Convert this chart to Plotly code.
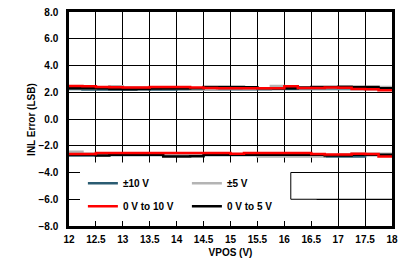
import plotly.graph_objects as go

# Supply voltage (V)
vpos = [12.0, 12.25, 12.5, 12.75, 13.0, 13.25, 13.5, 13.75, 14.0, 14.25, 14.5, 14.75,
        15.0, 15.25, 15.5, 15.75, 16.0, 16.25, 16.5, 16.75, 17.0, 17.25, 17.5, 17.75, 18.0]

# INL max / min (LSB) per output range
pm10_max = [2.25, 2.20, 2.20, 2.20, 2.20, 2.22, 2.20, 2.20, 2.22, 2.22, 2.22, 2.22, 2.22,
            2.22, 2.22, 2.25, 2.25, 2.25, 2.25, 2.25, 2.25, 2.25, 2.25, 2.28, 2.28]
pm10_min = [-2.72, -2.72, -2.70, -2.70, -2.70, -2.70, -2.70, -2.70, -2.70, -2.70, -2.70, -2.70,
            -2.70, -2.70, -2.70, -2.70, -2.70, -2.70, -2.70, -2.80, -2.80, -2.80, -2.70, -2.70, -2.55]

pm5_max = [2.30, 2.30, 2.36, 2.44, 2.36, 2.36, 2.32, 2.30, 2.28, 2.20, 2.22, 2.30, 2.30,
           2.28, 2.28, 2.47, 2.42, 2.30, 2.30, 2.30, 2.30, 2.30, 2.40, 2.40, 2.40]
pm5_min = [-2.45, -2.60, -2.65, -2.65, -2.65, -2.65, -2.65, -2.65, -2.65, -2.65, -2.65, -2.65,
           -2.65, -2.65, -2.80, -2.80, -2.80, -2.80, -2.80, -2.70, -2.65, -2.60, -2.60, -2.60, -2.60]

u10_max = [2.47, 2.45, 2.40, 2.38, 2.36, 2.36, 2.40, 2.40, 2.40, 2.35, 2.32, 2.30, 2.30,
           2.30, 2.30, 2.30, 2.45, 2.32, 2.32, 2.35, 2.33, 2.25, 2.22, 2.15, 2.12]
u10_min = [-2.62, -2.62, -2.55, -2.55, -2.55, -2.55, -2.55, -2.55, -2.55, -2.55, -2.55, -2.55,
           -2.60, -2.55, -2.55, -2.55, -2.55, -2.55, -2.62, -2.65, -2.65, -2.60, -2.62, -2.80, -2.80]

u5_max = [2.30, 2.30, 2.30, 2.25, 2.22, 2.25, 2.28, 2.28, 2.28, 2.30, 2.40, 2.40, 2.40,
          2.38, 2.30, 2.30, 2.30, 2.35, 2.40, 2.40, 2.42, 2.40, 2.40, 2.30, 2.30]
u5_min = [-2.68, -2.68, -2.72, -2.68, -2.68, -2.68, -2.68, -2.80, -2.80, -2.78, -2.68, -2.68,
          -2.68, -2.68, -2.68, -2.68, -2.68, -2.68, -2.68, -2.72, -2.72, -2.68, -2.68, -2.68, -2.68]

y_ticks = [8, 6, 4, 2, 0, -2, -4, -6, -8]

FONT = dict(family="Liberation Sans, Arial, sans-serif", size=10, color="black", weight="bold")

series = [
    # name, max, min, color, legend, rank
    ("±10 V", pm10_max, pm10_min, "#2B5C72", "legend", 1),
    ("±5 V", pm5_max, pm5_min, "#B4B4B4", "legend2", 1),
    ("0 V to 5 V", u5_max, u5_min, "#000000", "legend2", 2),
    ("0 V to 10 V", u10_max, u10_min, "#FF0000", "legend", 2),
]

fig = go.Figure()
for name, ymax, ymin, color, leg, rank in series:
    fig.add_trace(go.Scatter(
        x=vpos + [None] + vpos,
        y=ymax + [None] + ymin,
        mode="lines",
        name=name,
        line=dict(color=color, width=2.5, shape="hv"),
        legend=leg,
        legendrank=rank,
        legendgroup=name,
        hoverinfo="skip",
    ))

# white box behind the legend (hides gridlines, keeps ticks)
fig.add_shape(type="rect", xref="x", yref="y", x0=12, x1=16.6, y0=-8, y1=-3.25,
              fillcolor="white", line=dict(width=0), layer="between")
fig.add_shape(type="line", xref="x", yref="y", x0=16.12, x1=16.12, y0=-4, y1=-6,
              line=dict(color="black", width=1), layer="between")
fig.add_shape(type="line", xref="x", yref="y", x0=16.12, x1=18, y0=-4, y1=-4,
              line=dict(color="black", width=1), layer="between")
fig.add_shape(type="line", xref="x", yref="y", x0=16.12, x1=18, y0=-6, y1=-6,
              line=dict(color="black", width=1), layer="between")

legend_common = dict(
    orientation="v", xanchor="left", yanchor="top",
    bgcolor="rgba(0,0,0,0)", borderwidth=0, font=FONT,
    tracegroupgap=4, itemwidth=30,
)

fig.update_layout(
    width=406, height=267,
    margin=dict(l=69, r=14, t=6, b=41),
    paper_bgcolor="white", plot_bgcolor="white",
    font=FONT,
    showlegend=True,
    legend=dict(x=0.043, y=0.268, **legend_common),
    legend2=dict(x=0.365, y=0.268, **legend_common),
    xaxis=dict(
        range=[12, 18], dtick=0.5, tick0=12,
        showgrid=True, gridcolor="black", gridwidth=1,
        showline=True, linecolor="black", linewidth=2.5, mirror=True,
        ticks="inside", ticklen=5, tickcolor="black", tickwidth=1,
        ticklabelstandoff=2,
        title=dict(text="VPOS (V)", font=FONT, standoff=6),
        zeroline=False,
    ),
    yaxis=dict(
        range=[-8, 8], tickvals=y_ticks, tickformat=".1f",
        showgrid=True, gridcolor="black", gridwidth=1,
        showline=True, linecolor="black", linewidth=2.5, mirror=True,
        ticks="inside", ticklen=11, tickcolor="black", tickwidth=1,
        ticklabelstandoff=6,
        zeroline=False,
    ),
    annotations=[dict(
        text="INL Error (LSB)", textangle=-90, font=FONT, showarrow=False,
        xref="paper", yref="paper", x=-0.118, y=0.5, xanchor="center", yanchor="middle",
    )],
)

fig.write_html("out.html")
